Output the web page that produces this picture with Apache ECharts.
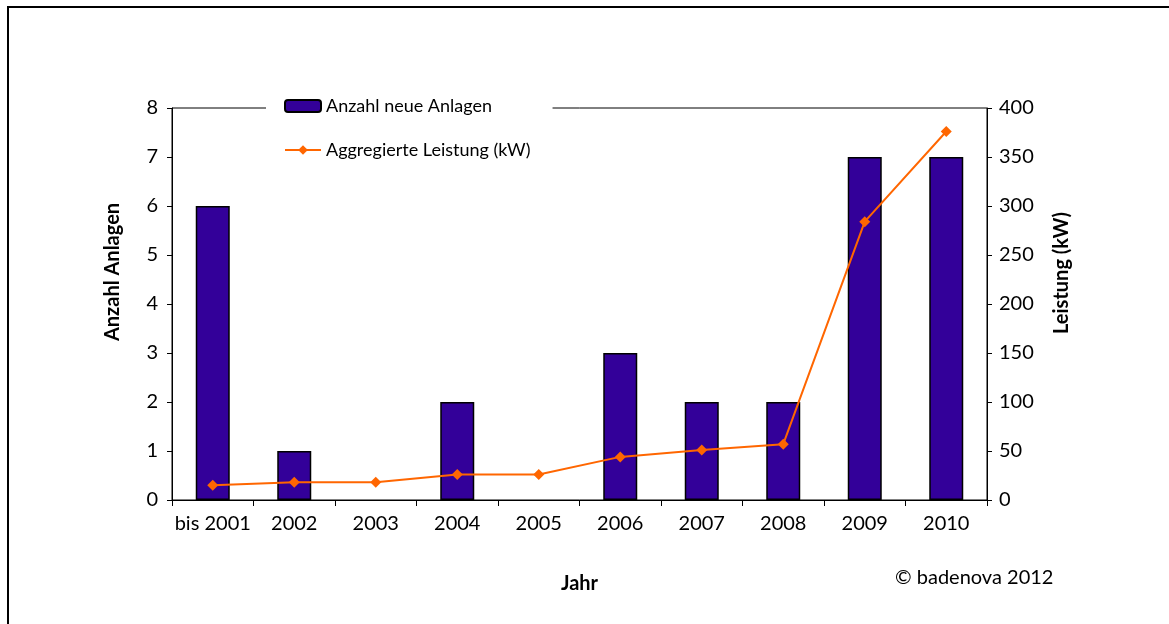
<!DOCTYPE html>
<html>
<head>
<meta charset="utf-8">
<script src="https://cdn.jsdelivr.net/npm/echarts@6/dist/echarts.min.js"></script>
<style>
  html, body { margin: 0; padding: 0; background: #fff; }
  #frame { position: absolute; left: 7px; top: 6px; width: 1162px; height: 618px;
           border-top: 2px solid #000; border-left: 2px solid #000; }
  #chart { position: absolute; left: 0; top: 0; width: 1169px; height: 624px; }
</style>
</head>
<body>
<div id="frame"></div>
<div id="chart"></div>
<script>
var jahre = ['bis 2001', '2002', '2003', '2004', '2005', '2006', '2007', '2008', '2009', '2010'];
var neueAnlagen = [6, 1, 0, 2, 0, 3, 2, 2, 7, 7];
var leistungKW = [15, 18, 18, 26, 26, 44, 51, 57, 284, 376];

var schrift = 'Lato, "Open Sans", sans-serif';

var chart = echarts.init(document.getElementById('chart'));

var titelStil = { fontSize: 20, fontWeight: 'bold', fill: '#000', fontFamily: schrift, align: 'center', verticalAlign: 'middle' };

var option = {
    textStyle: { fontFamily: schrift },
    animation: false,
    grid: { left: 172, right: 182, top: 108, bottom: 124, show: true, borderColor: '#000', borderWidth: 1 },
    legend: {
        orient: 'vertical',
        left: 266,
        top: 92,
        backgroundColor: '#fff',
        padding: [5, 22, 5, 18],
        itemGap: 26,
        itemWidth: 36,
        itemHeight: 12,
        textStyle: { fontSize: 18, color: '#000', fontFamily: schrift },
        data: ['Anzahl neue Anlagen', 'Aggregierte Leistung (kW)']
    },
    xAxis: {
        type: 'category',
        data: jahre,
        name: 'Jahr',
        nameLocation: 'middle',
        nameGap: 74,
        nameTextStyle: { fontSize: 20, fontWeight: 'bold', color: '#000' },
        axisLine: { lineStyle: { color: '#000' } },
        axisTick: { show: true, inside: false, length: 6, lineStyle: { color: '#000' } },
        axisLabel: { fontSize: 20, color: '#000', margin: 14, interval: 0 }
    },
    yAxis: [
        {
            type: 'value', min: 0, max: 8, interval: 1,
            axisLine: { show: true, lineStyle: { color: '#000' } },
            axisTick: { show: true, length: 5, lineStyle: { color: '#000' } },
            axisLabel: { fontSize: 20, color: '#000', margin: 14 },
            splitLine: { show: false }
        },
        {
            type: 'value', min: 0, max: 400, interval: 50,
            axisLine: { show: true, lineStyle: { color: '#000' } },
            axisTick: { show: true, length: 5, lineStyle: { color: '#000' } },
            axisLabel: { fontSize: 20, color: '#000', margin: 12 },
            splitLine: { show: false }
        }
    ],
    series: [
        {
            name: 'Anzahl neue Anlagen',
            type: 'bar',
            yAxisIndex: 0,
            barWidth: 34,
            // Nullwerte nicht zeichnen (sonst bleibt ein Rahmenstrich stehen)
            data: neueAnlagen.map(function (v) { return v === 0 ? '-' : v; }),
            itemStyle: { color: '#330099', borderColor: '#000', borderWidth: 1.5 }
        },
        {
            name: 'Aggregierte Leistung (kW)',
            type: 'line',
            yAxisIndex: 1,
            data: leistungKW,
            symbol: 'diamond',
            symbolSize: 11,
            lineStyle: { color: '#ff6600', width: 2 },
            itemStyle: { color: '#ff6600' }
        }
    ],
    graphic: [
        // Achsentitel etwas oberhalb der Mitte, wie im Original
        { type: 'text', x: 113, y: 272, rotation: Math.PI / 2, style: Object.assign({ text: 'Anzahl Anlagen' }, titelStil) },
        { type: 'text', x: 1062, y: 273, rotation: Math.PI / 2, style: Object.assign({ text: 'Leistung (kW)' }, titelStil) },
        {
            type: 'text',
            left: 895,
            top: 568,
            style: { text: '© badenova 2012', fontSize: 20, fill: '#000', fontFamily: schrift }
        }
    ]
};

chart.setOption(option);
</script>
</body>
</html>
